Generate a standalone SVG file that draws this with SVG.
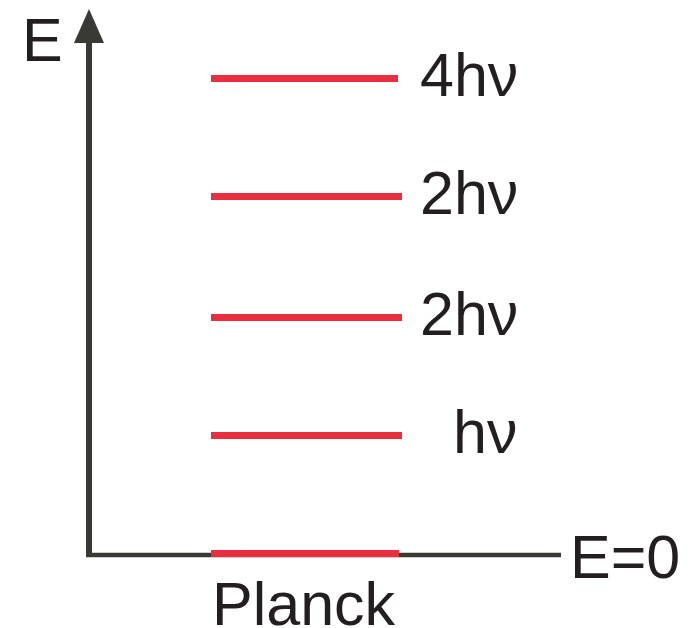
<svg xmlns="http://www.w3.org/2000/svg" width="694" height="628" viewBox="0 0 694 628">
  <style>
    .lvl { stroke: #e92e3f; stroke-width: 7; fill: none; }
    .axis { stroke: #3a3a35; fill: none; }
    .t { font-family: "Liberation Sans", Arial, sans-serif; font-size: 61px; fill: #231f20; }
  </style>
  <rect width="694" height="628" fill="#ffffff"/>
  <g id="connectors">
    <line class="axis" x1="89" y1="557" x2="89" y2="40" stroke-width="6"/>
    <polygon points="89,9 104,43 74,43" fill="#3a3a35"/>
    <line class="axis" x1="86" y1="555" x2="561" y2="555" stroke-width="4.5"/>
  </g>
  <g id="axis-label-E">
    <text class="t" x="22" y="61">E</text>
  </g>
  <g id="axis-label-E0">
    <text class="t" x="570" y="578">E=0</text>
  </g>
  <g id="level-4hv">
    <line class="lvl" x1="211" y1="78.5" x2="398" y2="78.5"/>
    <text class="t" x="420" y="96">4hν</text>
  </g>
  <g id="level-2hv-upper">
    <line class="lvl" x1="211" y1="196.5" x2="402" y2="196.5"/>
    <text class="t" x="420" y="214">2hν</text>
  </g>
  <g id="level-2hv-lower">
    <line class="lvl" x1="211" y1="317.5" x2="402" y2="317.5"/>
    <text class="t" x="420" y="335">2hν</text>
  </g>
  <g id="level-hv">
    <line class="lvl" x1="211" y1="435.5" x2="402" y2="435.5"/>
    <text class="t" x="453" y="453">hν</text>
  </g>
  <g id="level-0">
    <line class="lvl" x1="211" y1="553.5" x2="399" y2="553.5"/>
  </g>
  <g id="caption-planck">
    <text class="t" x="212" y="625">Planck</text>
  </g>
</svg>
